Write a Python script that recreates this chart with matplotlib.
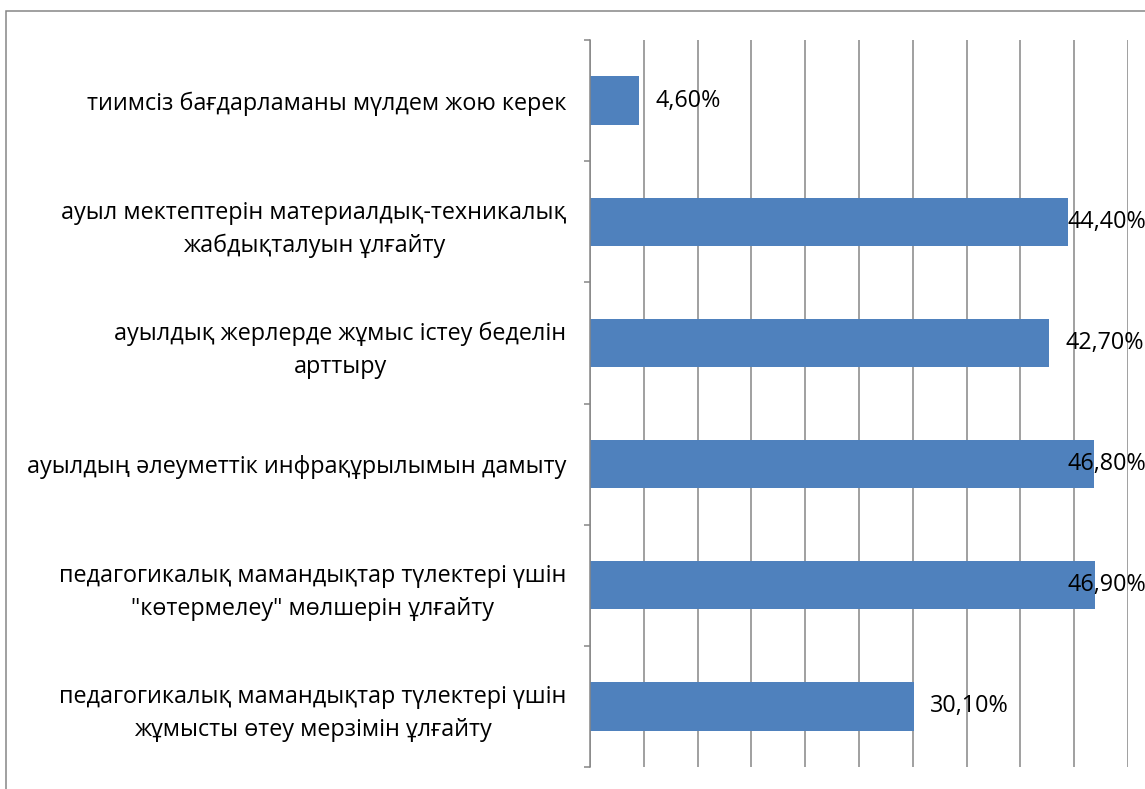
import matplotlib
matplotlib.use("Agg")
import matplotlib.pyplot as plt
import numpy as np
from matplotlib.patches import Rectangle

# top-to-bottom order, as in the chart
categories = [
    "тиимсіз бағдарламаны мүлдем жою керек",
    "ауыл мектептерін материалдық-техникалық\nжабдықталуын ұлғайту",
    "ауылдық жерлерде жұмыс істеу беделін\nарттыру",
    "ауылдың әлеуметтік инфрақұрылымын дамыту",
    "педагогикалық мамандықтар түлектері үшін\n\"көтермелеу\" мөлшерін ұлғайту",
    "педагогикалық мамандықтар түлектері үшін\nжұмысты өтеу мерзімін ұлғайту",
]
values = [4.6, 44.4, 42.7, 46.8, 46.9, 30.1]
x_ticks = [0, 5, 10, 15, 20, 25, 30, 35, 40, 45, 50]

BAR = "#4F81BD"
GRID = "#868686"
FS = 16.8

plt.rcParams["font.family"] = ["Open Sans", "DejaVu Sans"]

W, H = 1145, 789
fig = plt.figure(figsize=(W / 100, H / 100), dpi=100)
ax = fig.add_axes([590 / W, 1 - 767 / H, (1128 - 590) / W, (767 - 40) / H])

y = np.arange(len(categories))
ax.barh(y, values, height=0.4, color=BAR, zorder=3)

ax.set_xlim(x_ticks[0], x_ticks[-1])
ax.set_ylim(len(categories) - 0.5, -0.5)
ax.set_xticks(x_ticks)
ax.set_xticklabels([])
ax.tick_params(axis="x", length=0)
ax.grid(axis="x", color=GRID, linewidth=1.1, zorder=0)

ax.set_yticks(y)
ax.set_yticklabels(categories, fontsize=FS, linespacing=1.5)
for t in ax.get_yticklabels():
    t.set_multialignment("center")
ax.set_yticks(np.arange(len(categories) + 1) - 0.5, minor=True)
ax.tick_params(axis="y", which="major", length=0, pad=17)
ax.tick_params(axis="y", which="minor", length=4.5, width=1.1, color=GRID)

for s in ["top", "right", "bottom"]:
    ax.spines[s].set_visible(False)
ax.spines["left"].set_color(GRID)
ax.spines["left"].set_linewidth(1.1)
ax.spines["left"].set_zorder(4)

# data labels, pushed back inside the chart area near the right edge
for yi, v in zip(y, values):
    lx = min(v + 1.5, 44.4)
    ax.text(lx, yi, f"{v:.2f}%".replace(".", ","), fontsize=FS,
            va="center", ha="left", zorder=5, clip_on=False)

# outer chart-area border (cropped on right and bottom)
fig.patches.append(Rectangle((6 / W, -0.1), 1.2, 1.1 - 11 / H,
                             transform=fig.transFigure, fill=False,
                             edgecolor=GRID, linewidth=1.1))

fig.savefig("out.png", dpi=100)
